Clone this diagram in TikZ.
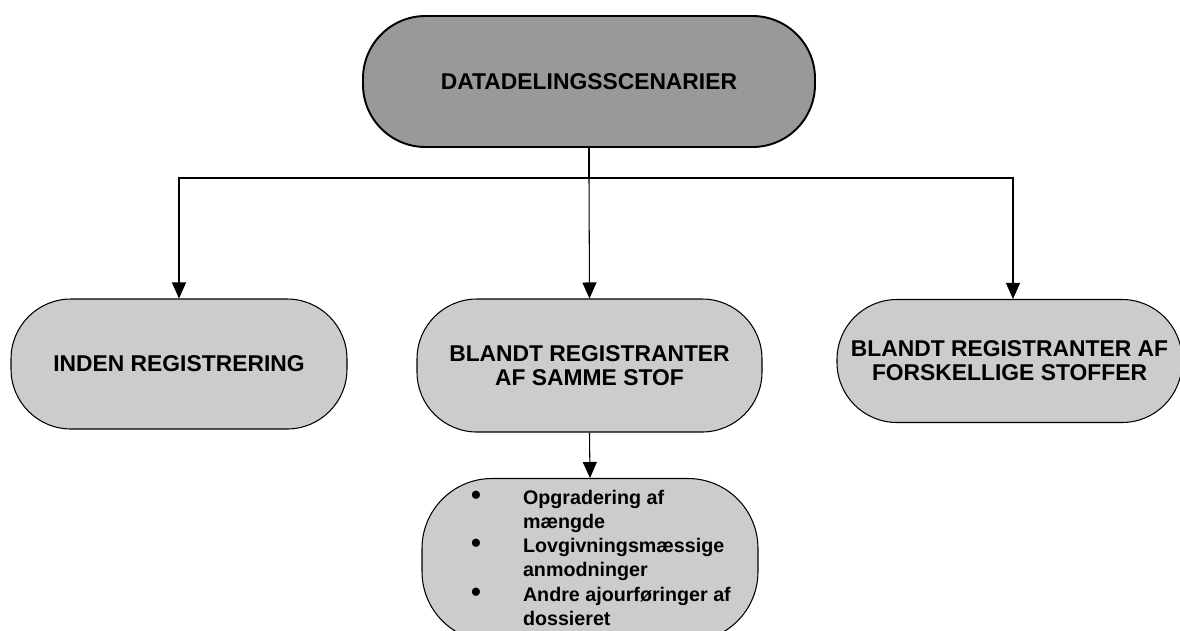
\documentclass[tikz,border=0pt]{standalone}
\usepackage{fontspec}
\setmainfont{Liberation Sans}
\usetikzlibrary{arrows.meta}
\newcommand{\dotitem}{{\fontsize{16}{13.6}\selectfont\textbullet}}

\begin{document}
\begin{tikzpicture}[
  pill/.style={draw,line width=0.6pt,fill=black!20,rounded corners=1.2cm,font=\fontsize{13}{13.6}\selectfont\bfseries},
  arr/.style={-{Triangle[length=0.32cm,width=0.28cm]},line width=0.6pt}]
  \useasboundingbox (0,0) rectangle (23.6,-12.6);
  \node[pill,fill=black!40,line width=1.1pt,rounded corners=1.25cm,minimum width=9.04cm,minimum height=2.62cm] (scen) at (11.78,-1.63) {DATADELINGSSCENARIER};
  \node[pill,minimum width=6.72cm,minimum height=2.6cm] (inden) at (3.58,-7.28) {INDEN REGISTRERING};
  \node[pill,align=center,minimum width=6.9cm,minimum height=2.66cm] (samme) at (11.79,-7.31) {BLANDT REGISTRANTER\\AF SAMME STOF};
  \node[pill,align=center,minimum width=6.9cm,minimum height=2.46cm] (forsk) at (20.19,-7.22) {BLANDT REGISTRANTER AF\\FORSKELLIGE STOFFER};
  \node[pill,rounded corners=1.4cm,minimum width=6.72cm,minimum height=3.26cm,font=\fontsize{11.2}{13.8}\selectfont\bfseries] (opd) at (11.8,-11.2)
    {\begin{tabular}{@{}c@{\hspace{0.84cm}}l@{}}
      \dotitem & Opgradering af\\
       & mængde\\
      \dotitem & Lovgivningsmæssige\\
       & anmodninger\\
      \dotitem & Andre ajourføringer af\\
       & dossieret
    \end{tabular}\hspace*{-0.44cm}};
  % connectors
  \coordinate (bus) at (11.78,-3.56);
  \draw[line width=0.6pt] (scen.south) -- (bus);
  \draw[arr] (bus) -| (inden.north);
  \draw[arr] (bus) -- (samme.north);
  \draw[arr] (bus) -| ([xshift=0.07cm]forsk.north);
  \draw[arr] (samme.south) -- (opd.north);
\end{tikzpicture}
\end{document}
